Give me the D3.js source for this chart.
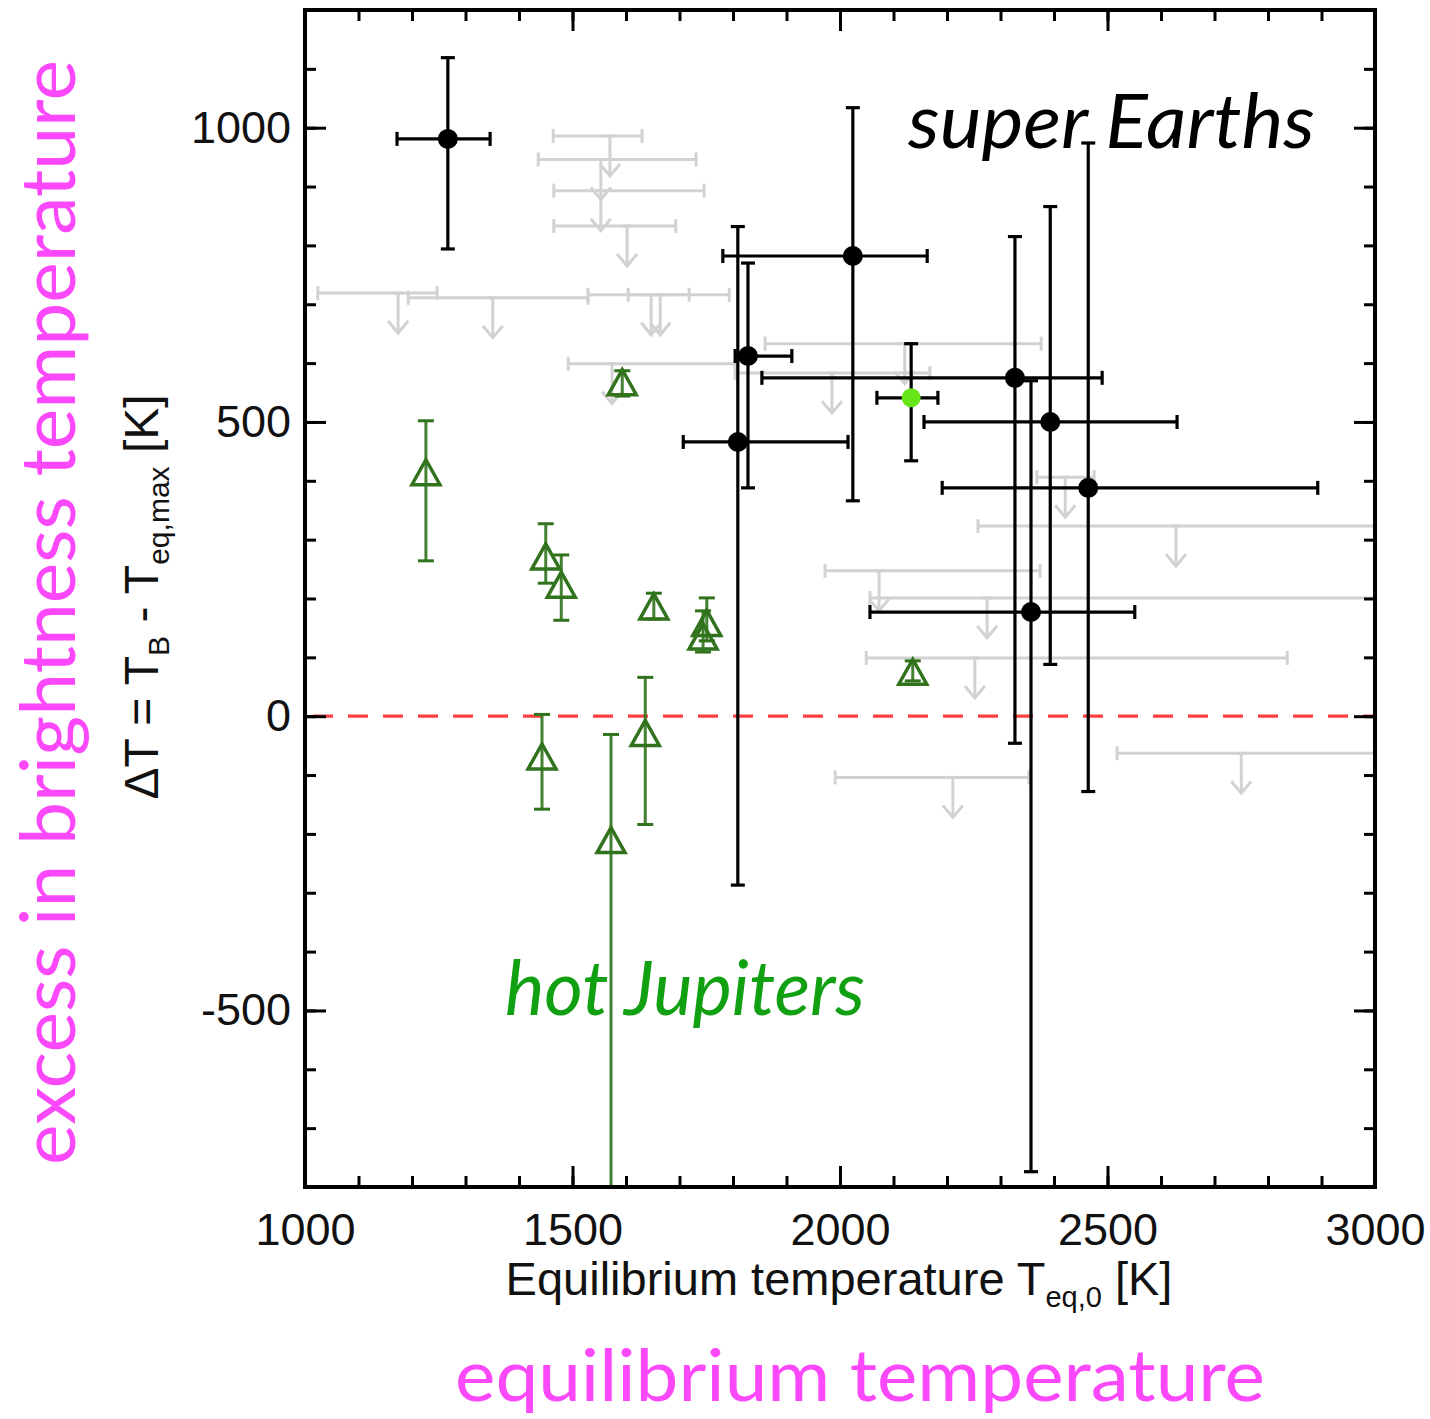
<!DOCTYPE html>
<html><head><meta charset="utf-8">
<script src="https://cdn.jsdelivr.net/npm/d3@7"></script>
<style>body{margin:0;background:#fff}svg{display:block}</style>
</head><body>
<svg id="c" width="1430" height="1419"></svg>
<script>
// ---------- data ----------
const xMajorTicks = [1000, 1500, 2000, 2500, 3000];
const yMajorTicks = [-500, 0, 500, 1000];
const xMinorTicks = d3.range(1000, 3001, 100);
const yMinorTicks = d3.range(-800, 1201, 100);

// super Earth detections: [Teq0, dT, TeqLo, TeqHi, dTLo, dTHi]
const superEarths = [
  [1267, 981, 1172, 1346, 794, 1119],
  [2024, 782, 1781, 2163, 366, 1034],
  [1828, 612, 1804, 1910, 388, 770],
  [1809, 466, 1707, 2015, -287, 832],
  [2327, 575, 1854, 2490, -46, 815],
  [2393, 500, 2157, 2630, 88, 866],
  [2464, 388, 2191, 2893, -128, 974],
  [2357, 177, 2056, 2551, -774, 570]
];
// highlighted super Earth (green dot)
const highlighted = [[2133, 541, 2069, 2183, 434, 633]];

// hot Jupiters: [Teq0, dT, dTLo, dTHi]
const hotJupiters = [
  [1226, 412, 264, 502],
  [1450, 269, 226, 327],
  [1479, 221, 163, 274],
  [1652, 184, 165, 209],
  [1751, 156, 128, 201],
  [1744, 133, 109, 179],
  [1593, 565, 544, 587],
  [2136, 73, 60, 94],
  [1443, -71, -158, 3],
  [1636, -31, -184, 66],
  [1572, -213, -950, -31]
];

// upper limits: [Teq0, dTmax, TeqLo, TeqHi]
const upperLimits = [
  [1570, 986, 1464, 1630],
  [1553, 946, 1436, 1731],
  [1553, 893, 1465, 1746],
  [1602, 833, 1465, 1693],
  [1174, 719, 1024, 1247],
  [1351, 711, 1193, 1529],
  [1647, 716, 1529, 1718],
  [1664, 716, 1604, 1793],
  [1574, 599, 1492, 1804],
  [2121, 633, 1860, 2376],
  [1985, 583, 1804, 2168],
  [2421, 406, 2368, 2475],
  [2628, 323, 2258, 3060],
  [2073, 247, 1972, 2374],
  [2275, 201, 2056, 3060],
  [2252, 99, 2049, 2836],
  [2750, -63, 2518, 3060],
  [2211, -104, 1991, 2353]
];

// ---------- layout ----------
const L = 305, R = 1375, T = 10, B = 1187;
const x = d3.scaleLinear().domain([1000, 3000]).range([L, R]);
const y = d3.scaleLinear().domain([-800, 1200]).range([B, T]);

const svg = d3.select('#c');
svg.append('rect').attr('width', 1430).attr('height', 1419).attr('fill', '#fff');
svg.append('defs').append('clipPath').attr('id', 'plot')
  .append('rect').attr('x', L).attr('y', T).attr('width', R - L).attr('height', B - T);

const plot = svg.append('g').attr('clip-path', 'url(#plot)');

// zero line
plot.append('line')
  .attr('x1', L).attr('x2', R).attr('y1', y(0)).attr('y2', y(0))
  .attr('stroke', '#ff4040').attr('stroke-width', 3.2).attr('stroke-dasharray', '20,15')
  .attr('stroke-dashoffset', -8);

// upper limits (grey)
const grey = '#d2d2d2';
const gU = plot.append('g').attr('stroke', grey).attr('stroke-width', 3).attr('fill', 'none');
upperLimits.forEach(d => {
  const cx = x(d[0]), cy = y(d[1]), x0 = x(d[2]), x1 = x(d[3]);
  const g = gU.append('g');
  g.append('line').attr('x1', x0).attr('x2', x1).attr('y1', cy).attr('y2', cy);
  g.append('line').attr('x1', x0).attr('x2', x0).attr('y1', cy - 7).attr('y2', cy + 7);
  g.append('line').attr('x1', x1).attr('x2', x1).attr('y1', cy - 7).attr('y2', cy + 7);
  const ye = cy + 40;
  g.append('line').attr('x1', cx - 5).attr('x2', cx + 5).attr('y1', cy).attr('y2', cy);
  g.append('line').attr('x1', cx).attr('x2', cx).attr('y1', cy).attr('y2', ye);
  g.append('path').attr('d', `M${cx - 10},${ye - 12}L${cx},${ye}L${cx + 10},${ye - 12}`);
});

// super Earth error bars + dots
function detection(sel, d, fill, r) {
  const cx = x(d[0]), cy = y(d[1]);
  const g = sel.append('g').attr('stroke', '#000').attr('stroke-width', 3.2);
  g.append('line').attr('x1', x(d[2])).attr('x2', x(d[3])).attr('y1', cy).attr('y2', cy);
  [d[2], d[3]].forEach(t => g.append('line').attr('x1', x(t)).attr('x2', x(t)).attr('y1', cy - 7).attr('y2', cy + 7));
  g.append('line').attr('x1', cx).attr('x2', cx).attr('y1', y(d[4])).attr('y2', y(d[5]));
  [d[4], d[5]].forEach(v => g.append('line').attr('x1', cx - 7).attr('x2', cx + 7).attr('y1', y(v)).attr('y2', y(v)));
  g.append('circle').attr('cx', cx).attr('cy', cy).attr('r', r).attr('fill', fill).attr('stroke', 'none');
}
const gS = plot.append('g');
superEarths.forEach(d => detection(gS, d, '#000', 10));
highlighted.forEach(d => detection(gS, d, '#66e619', 9.5));

// hot Jupiters
const hjCol = '#30731c';
const gH = plot.append('g').attr('stroke', hjCol).attr('fill', 'none');
hotJupiters.forEach(d => {
  const cx = x(d[0]), cy = y(d[1]);
  gH.append('line').attr('x1', cx).attr('x2', cx).attr('y1', y(d[2])).attr('y2', y(d[3]))
    .attr('stroke-width', 3).attr('stroke-opacity', 0.9);
  [d[2], d[3]].forEach(v => gH.append('line').attr('x1', cx - 8).attr('x2', cx + 8).attr('y1', y(v)).attr('y2', y(v)).attr('stroke-width', 3));
  gH.append('path').attr('d', `M${cx},${cy - 14}L${cx + 14},${cy + 11}L${cx - 14},${cy + 11}Z`)
    .attr('stroke-width', 3.5).attr('stroke-linejoin', 'miter');
});

// ---------- axes ----------
const font = "'Liberation Sans', Arial, Helvetica, sans-serif";
const fmt = d => String(d);
function styleAxis(g) {
  g.select('.domain').remove();
  g.selectAll('line').attr('stroke', '#000').attr('stroke-width', 3);
  g.selectAll('text').attr('font-family', font).attr('font-size', 45).attr('fill', '#111');
}
// minor ticks
svg.append('g').attr('transform', `translate(0,${B})`)
  .call(d3.axisBottom(x).tickValues(xMinorTicks).tickSize(-11).tickFormat('')).call(styleAxis);
svg.append('g').attr('transform', `translate(0,${T})`)
  .call(d3.axisTop(x).tickValues(xMinorTicks).tickSize(-11).tickFormat('')).call(styleAxis);
svg.append('g').attr('transform', `translate(${L},0)`)
  .call(d3.axisLeft(y).tickValues(yMinorTicks).tickSize(-11).tickFormat('')).call(styleAxis);
svg.append('g').attr('transform', `translate(${R},0)`)
  .call(d3.axisRight(y).tickValues(yMinorTicks).tickSize(-11).tickFormat('')).call(styleAxis);
// major ticks with labels
svg.append('g').attr('transform', `translate(0,${B})`)
  .call(d3.axisBottom(x).tickValues(xMajorTicks).tickSize(-21).tickPadding(26).tickFormat(fmt)).call(styleAxis);
svg.append('g').attr('transform', `translate(0,${T})`)
  .call(d3.axisTop(x).tickValues(xMajorTicks).tickSize(-21).tickFormat('')).call(styleAxis);
svg.append('g').attr('transform', `translate(${L},0)`)
  .call(d3.axisLeft(y).tickValues(yMajorTicks).tickSize(-21).tickPadding(14).tickFormat(fmt)).call(styleAxis);
svg.append('g').attr('transform', `translate(${R},0)`)
  .call(d3.axisRight(y).tickValues(yMajorTicks).tickSize(-21).tickFormat('')).call(styleAxis);

// frame
svg.append('rect').attr('x', L).attr('y', T).attr('width', R - L).attr('height', B - T)
  .attr('fill', 'none').attr('stroke', '#000').attr('stroke-width', 4);

// axis titles
const xt = svg.append('text').attr('x', 839).attr('y', 1295)
  .attr('text-anchor', 'middle').attr('font-family', font).attr('font-size', 47).attr('fill', '#111');
xt.append('tspan').text('Equilibrium temperature T');
xt.append('tspan').attr('font-size', 29).attr('dy', 12).text('eq,0');
xt.append('tspan').attr('dy', -12).text(' [K]');

const yt = svg.append('text').attr('transform', 'translate(158,597) rotate(-90)')
  .attr('text-anchor', 'middle').attr('font-family', font).attr('font-size', 48).attr('fill', '#111');
yt.append('tspan').text('\u0394T = T');
yt.append('tspan').attr('font-size', 30).attr('dy', 11).text('B');
yt.append('tspan').attr('dy', -11).text(' - T');
yt.append('tspan').attr('font-size', 30).attr('dy', 11).text('eq,max');
yt.append('tspan').attr('dy', -11).text(' [K]');

// annotations
const hum = "Lato, 'Open Sans', sans-serif";
svg.append('text').attr('x', 908).attr('y', 148).attr('font-family', hum).attr('font-style', 'italic')
  .attr('font-size', 76).attr('fill', '#000').attr('textLength', 407).attr('lengthAdjust', 'spacingAndGlyphs')
  .text('super Earths');
svg.append('text').attr('x', 505).attr('y', 1015).attr('font-family', hum).attr('font-style', 'italic')
  .attr('font-size', 76).attr('fill', '#11a011').attr('textLength', 360).attr('lengthAdjust', 'spacingAndGlyphs')
  .text('hot Jupiters');
svg.append('text').attr('x', 455).attr('y', 1401).attr('font-family', hum)
  .attr('font-size', 72).attr('fill', '#fb48fb').attr('textLength', 810).attr('lengthAdjust', 'spacingAndGlyphs')
  .text('equilibrium temperature');
svg.append('text').attr('transform', 'translate(75,1165) rotate(-90)').attr('font-family', hum)
  .attr('font-size', 76).attr('fill', '#fb48fb').attr('textLength', 1105).attr('lengthAdjust', 'spacingAndGlyphs')
  .text('excess in brightness temperature');
</script>
</body></html>
